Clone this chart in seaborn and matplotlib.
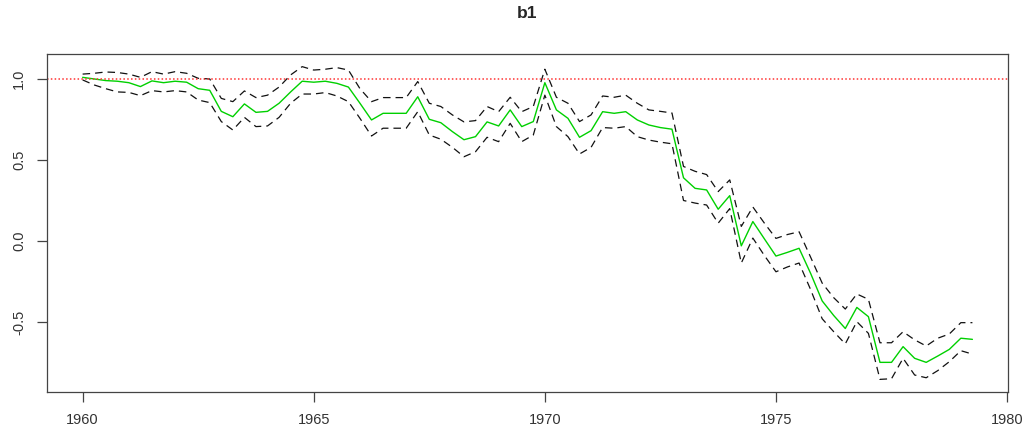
import matplotlib
matplotlib.use("Agg")
import matplotlib.pyplot as plt
import seaborn as sns
import pandas as pd
import numpy as np

# quarterly series, 1960 Q1 .. 1979 Q2
start_year = 1960
n_quarters = 78

b1 = [1.01, 1.00, 0.99, 0.986, 0.977, 0.953, 0.988, 0.977, 0.986, 0.98,
      0.94, 0.93, 0.80, 0.767, 0.846, 0.794, 0.80, 0.85, 0.92, 0.986,
      0.98, 0.986, 0.973, 0.95, 0.85, 0.747, 0.788, 0.788, 0.788, 0.89,
      0.751, 0.73, 0.675, 0.625, 0.644, 0.735, 0.71, 0.809, 0.706, 0.737,
      0.977, 0.809, 0.757, 0.64, 0.681, 0.798, 0.788, 0.798, 0.747, 0.716,
      0.70, 0.69, 0.39, 0.325, 0.315, 0.196, 0.28, -0.03, 0.12, 0.013,
      -0.093, -0.07, -0.045, -0.20, -0.37, -0.46, -0.54, -0.41, -0.467, -0.749,
      -0.749, -0.652, -0.724, -0.749, -0.71, -0.669, -0.60, -0.607]

upper = [1.03, 1.035, 1.043, 1.04, 1.03, 1.01, 1.045, 1.03, 1.045, 1.035,
         1.004, 1.0, 0.88, 0.86, 0.926, 0.885, 0.90, 0.95, 1.025, 1.076,
         1.055, 1.06, 1.07, 1.055, 0.94, 0.86, 0.885, 0.885, 0.885, 0.984,
         0.85, 0.83, 0.778, 0.735, 0.743, 0.83, 0.798, 0.887, 0.798, 0.83,
         1.06, 0.887, 0.85, 0.737, 0.778, 0.895, 0.887, 0.90, 0.85, 0.809,
         0.80, 0.79, 0.46, 0.43, 0.41, 0.305, 0.377, 0.09, 0.21, 0.11,
         0.016, 0.04, 0.057, -0.10, -0.26, -0.35, -0.42, -0.327, -0.36, -0.628,
         -0.628, -0.56, -0.61, -0.648, -0.60, -0.574, -0.504, -0.504]

lower = [0.994, 0.963, 0.94, 0.92, 0.917, 0.897, 0.928, 0.92, 0.928, 0.92,
         0.87, 0.854, 0.737, 0.685, 0.763, 0.706, 0.71, 0.763, 0.85, 0.907,
         0.907, 0.916, 0.895, 0.86, 0.757, 0.648, 0.696, 0.696, 0.696, 0.798,
         0.654, 0.628, 0.578, 0.52, 0.551, 0.64, 0.613, 0.726, 0.613, 0.654,
         0.90, 0.706, 0.644, 0.537, 0.578, 0.70, 0.696, 0.706, 0.644, 0.623,
         0.61, 0.60, 0.25, 0.234, 0.222, 0.11, 0.20, -0.136, 0.018, -0.09,
         -0.19, -0.16, -0.136, -0.30, -0.48, -0.56, -0.635, -0.498, -0.57, -0.854,
         -0.85, -0.724, -0.827, -0.844, -0.80, -0.745, -0.677, -0.698]

x_ticks = [1960, 1965, 1970, 1975, 1980]
y_ticks = [-0.5, 0.0, 0.5, 1.0]
y_tick_labels = ["-0.5", "0.0", "0.5", "1.0"]

time = start_year + np.arange(n_quarters) / 4
df = pd.DataFrame({"time": time, "b1": b1, "upper": upper, "lower": lower})

sns.set_style("ticks")
plt.rcParams["font.family"] = ["Liberation Sans", "DejaVu Sans"]

fig = plt.figure(figsize=(10.27, 4.38), dpi=100)
ax = fig.add_axes([0.0458, 0.105, 0.9357, 0.7717])

dash = (0, (6, 4))
sns.lineplot(data=df, x="time", y="upper", ax=ax, color="#111111",
             linewidth=0.9, linestyle=dash)
sns.lineplot(data=df, x="time", y="lower", ax=ax, color="#111111",
             linewidth=0.9, linestyle=dash)
sns.lineplot(data=df, x="time", y="b1", ax=ax, color="#00d000", linewidth=1.0)
ax.axhline(1.0, color="#ff3333", linestyle=(0, (1, 1.5)), linewidth=1.1)

ax.set_xlim(1959.23, 1980.02)
ax.set_ylim(-0.932, 1.154)
ax.set_xticks(x_ticks)
ax.set_xticklabels([str(t) for t in x_ticks])
ax.set_yticks(y_ticks)
ax.set_yticklabels(y_tick_labels, rotation=90, va="center")
ax.set_xlabel("")
ax.set_ylabel("")
ax.tick_params(axis="both", direction="out", length=7, width=0.9,
               colors="#444444", labelsize=10.5, labelcolor="#333333", pad=8)
for sp in ax.spines.values():
    sp.set_visible(True)
    sp.set_color("#444444")
    sp.set_linewidth(0.9)

ax.set_title("b1", fontsize=12.5, fontweight="bold", pad=26)

fig.savefig("out.png", dpi=100)
